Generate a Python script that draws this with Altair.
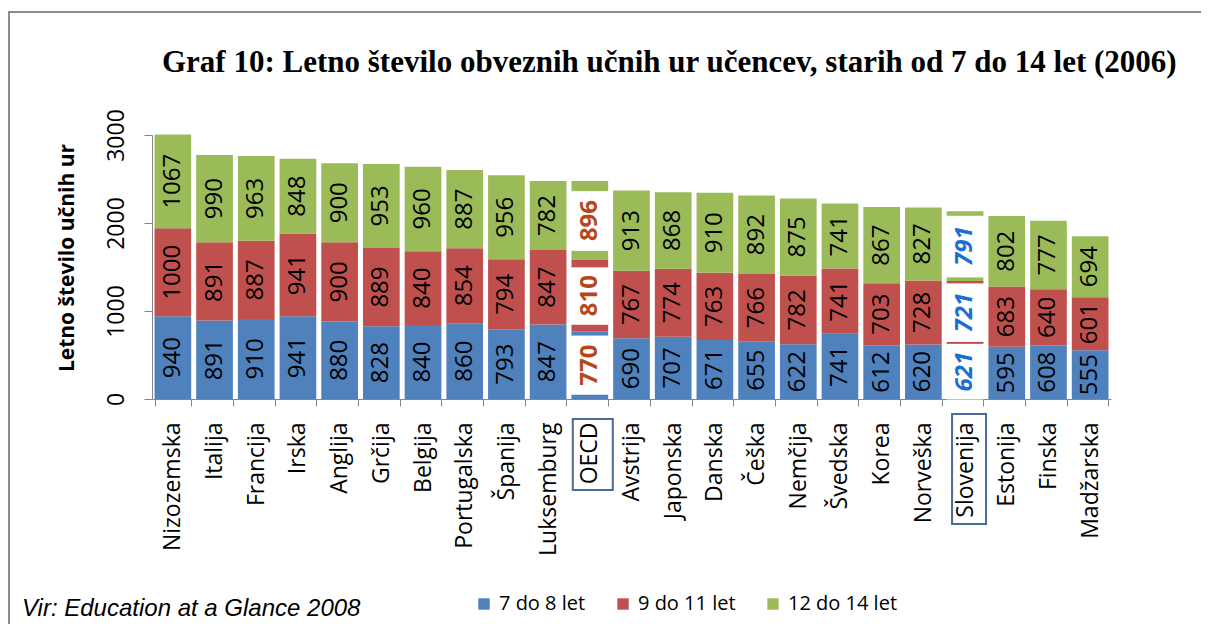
import altair as alt
import pandas as pd

# ---------------- data ----------------
countries = ["Nizozemska", "Italija", "Francija", "Irska", "Anglija", "Grčija", "Belgija",
             "Portugalska", "Španija", "Luksemburg", "OECD", "Avstrija", "Japonska", "Danska",
             "Češka", "Nemčija", "Švedska", "Korea", "Norveška", "Slovenija", "Estonija",
             "Finska", "Madžarska"]
v_7_8 = [940, 891, 910, 941, 880, 828, 840, 860, 793, 847, 770, 690, 707, 671, 655, 622,
         741, 612, 620, 621, 595, 608, 555]
v_9_11 = [1000, 891, 887, 941, 900, 889, 840, 854, 794, 847, 810, 767, 774, 763, 766, 782,
          741, 703, 728, 721, 683, 640, 601]
v_12_14 = [1067, 990, 963, 848, 900, 953, 960, 887, 956, 782, 896, 913, 868, 910, 892, 875,
           741, 867, 827, 791, 802, 777, 694]
groups = ["7 do 8 let", "9 do 11 let", "12 do 14 let"]
y_ticks = [0, 1000, 2000, 3000]
highlight = ["OECD", "Slovenija"]

title_text = "Graf 10: Letno število obveznih učnih ur učencev, starih od 7 do 14 let (2006)"
source_text = "Vir: Education at a Glance 2008"
y_title_text = "Letno število učnih ur"

# ---------------- styles ----------------
colors = ["#4F81BD", "#C0504D", "#9BBB59"]
axis_gray = "#868686"
oecd_color = "#B8461B"
slo_color = "#1C6ED2"
box_color = "#4A6A99"
# visible colour strips (low, high) kept on the highlighted bars, in data units
strips = {
    ("OECD", "7 do 8 let"): (55, 55),
    ("OECD", "9 do 11 let"): (80, 90),
    ("OECD", "12 do 14 let"): (110, 120),
    ("Slovenija", "7 do 8 let"): (0, 0),
    ("Slovenija", "9 do 11 let"): (34, 34),
    ("Slovenija", "12 do 14 let"): (45, 57),
}

W, H = 959, 264
PAD_L, PAD_T, PAD_R, PAD_B = 144, 127, 90, 225

rows = []
for i, c in enumerate(countries):
    base = 0
    for g, vals in zip(groups, [v_7_8, v_9_11, v_12_14]):
        v = vals[i]
        lo, hi = strips.get((c, g), (0, 0))
        rows.append(dict(country=c, group=g, value=v, start=base, end=base + v,
                         mid=base + v / 2, wlo=base + lo, whi=base + v - hi))
        base += v
df = pd.DataFrame(rows)

x_enc = alt.X("country:N", sort=countries,
              scale=alt.Scale(paddingInner=0.12, paddingOuter=0.06),
              axis=alt.Axis(title=None, labelAngle=270, labelAlign="right",
                            labelBaseline="middle", labelFont="Open Sans",
                            labelFontSize=23, labelColor="black", labelPadding=16,
                            tickBand="extent", tickSize=7, tickColor=axis_gray,
                            domainColor=axis_gray, labelOverlap=False))
y_scale = alt.Scale(domain=[0, 3000], nice=False)
y_axis = alt.Axis(values=y_ticks, title=None, format="d", labelAngle=270,
                  labelAlign="center", labelBaseline="bottom", labelFont="Open Sans",
                  labelFontSize=23, labelColor="black", labelPadding=16, tickSize=8,
                  tickColor=axis_gray, domainColor=axis_gray, grid=False)


def y_enc(field):
    return alt.Y(f"{field}:Q", scale=y_scale, axis=y_axis)


base = alt.Chart(df)

bars = base.mark_bar().encode(
    x=x_enc,
    y=y_enc("start"),
    y2="end:Q",
    color=alt.Color("group:N", sort=groups,
                    scale=alt.Scale(domain=groups, range=colors),
                    legend=alt.Legend(orient="none", legendX=322, legendY=459,
                                      direction="horizontal", title=None,
                                      symbolType="square", symbolSize=130,
                                      symbolStrokeWidth=0, labelFont="Open Sans",
                                      labelFontSize=20, labelColor="black",
                                      columnPadding=27, labelOffset=5)),
)

white = base.transform_filter(
    alt.FieldOneOfPredicate(field="country", oneOf=highlight)
).mark_bar(color="white", stroke="white", strokeWidth=1).encode(
    x=x_enc, y=y_enc("wlo"), y2="whi:Q")

text_normal = base.transform_filter(
    ~alt.FieldOneOfPredicate(field="country", oneOf=highlight)
).mark_text(angle=270, font="Open Sans", fontSize=24, color="black",
            align="center", baseline="middle").encode(
    x=x_enc, y=y_enc("mid"), text="value:Q")

text_oecd = base.transform_filter(alt.datum.country == "OECD").mark_text(
    angle=270, font="Open Sans", fontSize=24, fontWeight="bold", color=oecd_color,
    align="center", baseline="middle").encode(x=x_enc, y=y_enc("mid"), text="value:Q")

text_slo = base.transform_filter(alt.datum.country == "Slovenija").mark_text(
    angle=270, font="Open Sans", fontSize=24, fontWeight="bold", fontStyle="italic",
    color=slo_color, align="center", baseline="middle").encode(
    x=x_enc, y=y_enc("mid"), text="value:Q")

box_df = pd.DataFrame({"country": highlight})
box_oecd = alt.Chart(box_df).transform_filter(alt.datum.country == "OECD").mark_bar(
    width=40, xOffset=3, fillOpacity=0, stroke=box_color, strokeWidth=2).encode(
    x=x_enc, y=alt.value(H + 20), y2=alt.value(H + 91))
box_slo = alt.Chart(box_df).transform_filter(alt.datum.country == "Slovenija").mark_bar(
    width=34, xOffset=4, fillOpacity=0, stroke=box_color, strokeWidth=2).encode(
    x=x_enc, y=alt.value(H + 15), y2=alt.value(H + 125))

ann = pd.DataFrame({"title": [title_text], "source": [source_text], "ytitle": [y_title_text]})
title = alt.Chart(ann).mark_text(font="Liberation Serif", fontSize=31, fontWeight="bold",
                                 align="left", baseline="alphabetic", color="black").encode(
    text="title:N", x=alt.value(10), y=alt.value(-63))
source = alt.Chart(ann).mark_text(font="Liberation Sans", fontSize=24, fontStyle="italic",
                                  align="left", baseline="alphabetic", color="black").encode(
    text="source:N", x=alt.value(-130), y=alt.value(481))
ytitle = alt.Chart(ann).mark_text(font="Open Sans", fontSize=21, fontWeight="bold",
                                  angle=270, align="center", baseline="middle",
                                  color="black").encode(
    text="ytitle:N", x=alt.value(-84), y=alt.value(123))
frame_left = alt.Chart(ann).mark_rule(color="#8C8C8C", strokeWidth=2).encode(
    x=alt.value(-143), y=alt.value(-123), y2=alt.value(H + PAD_B))
frame_top = alt.Chart(ann).mark_rule(color="#8C8C8C", strokeWidth=2).encode(
    x=alt.value(-144), x2=alt.value(W + PAD_R), y=alt.value(-123))

chart = alt.layer(
    frame_left, frame_top, bars, white, text_normal, text_oecd, text_slo, box_oecd, box_slo,
    title, source, ytitle
).properties(
    width=W, height=H,
    autosize=alt.AutoSizeParams(type="none"),
    padding={"left": PAD_L, "top": PAD_T, "right": PAD_R, "bottom": PAD_B},
    background="white",
).configure_view(strokeWidth=0)

chart.save("out.html", embed_options={"renderer": "svg", "actions": False})
